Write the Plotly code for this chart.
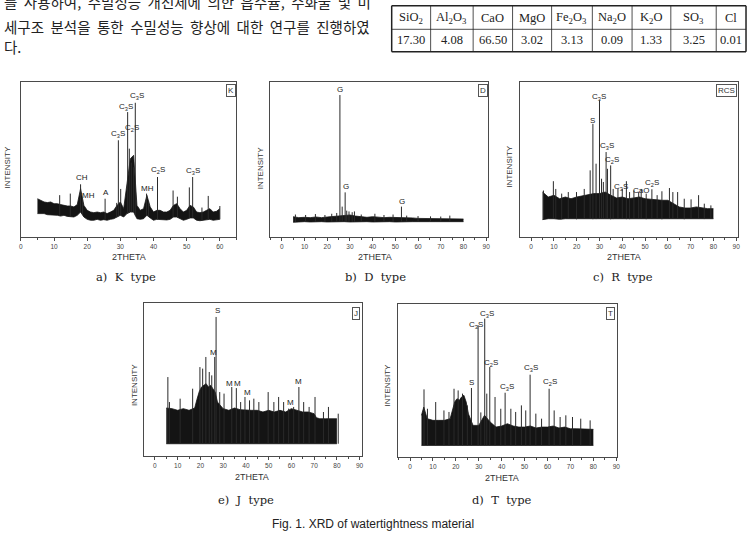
import numpy as np
import plotly.graph_objects as go

W, H = 751, 546

# ---------------- text content ----------------
intro_lines = ["를 사용하여, 수밀성능 개선제에 의한 흡수율, 수화물 및 미",
               "세구조 분석을 통한 수밀성능 향상에 대한 연구를 진행하였",
               "다."]
table_oxides = ["SiO<sub>2</sub>", "Al<sub>2</sub>O<sub>3</sub>", "CaO", "MgO",
                "Fe<sub>2</sub>O<sub>3</sub>", "Na<sub>2</sub>O", "K<sub>2</sub>O",
                "SO<sub>3</sub>", "Cl"]
table_values = [17.30, 4.08, 66.50, 3.02, 3.13, 0.09, 1.33, 3.25, 0.01]
fig_caption = "Fig. 1. XRD of watertightness material"

C3S = "C<sub>3</sub>S"
C2S = "C<sub>2</sub>S"

# ---------------- a) K type ----------------
k_band_x = list(range(5, 61))
k_band_hi = [24.7, 23.7, 22.6, 22.2, 22.6, 21.5, 21.5, 20.9, 20.4, 20.0,
             20.0, 19.4, 20.9, 31.2, 20.4, 17.2, 16.1, 15.7, 16.1, 15.7,
             16.1, 15.1, 16.1, 17.2, 20.4, 22.6, 18.3, 35.5, 50.5, 52.7,
             20.4, 17.2, 18.3, 26.9, 19.4, 16.1, 17.2, 17.2, 16.1, 16.1,
             17.2, 20.4, 21.5, 18.3, 16.1, 17.2, 20.4, 19.4, 16.1, 15.7,
             16.1, 17.2, 18.3, 16.1, 16.6, 18.3]
k_band_lo = [15.1, 15.1, 15.1, 14.4, 14.4, 14.0, 14.0, 13.5, 14.0, 13.3,
             12.9, 12.9, 14.0, 16.1, 12.9, 11.4, 10.8, 10.8, 11.4, 10.8,
             11.2, 10.8, 11.4, 11.8, 12.9, 14.0, 12.9, 15.1, 16.1, 16.1,
             11.8, 11.4, 11.8, 14.0, 12.3, 10.8, 11.4, 11.2, 10.8, 11.0,
             11.4, 12.9, 12.9, 11.8, 10.8, 11.4, 12.3, 12.3, 10.8, 10.5,
             10.8, 11.4, 11.4, 10.8, 11.0, 11.4]
k_peak_x = [11.7, 14.9, 18.0, 18.6, 25.4, 28.9, 29.4, 30.1, 32.2, 32.7, 33.3,
            34.0, 34.5, 37.9, 38.5, 41.2, 45.9, 47.2, 50.8, 51.8, 54.6, 56.5, 60.0]
k_peak_y = [27, 28, 34, 24, 24.7, 22, 62.4, 31, 80.6, 57, 48,
            45, 86.6, 28, 23, 38.7, 30, 26, 32, 38.7, 19, 26.5, 20]
k_lab_x = [18.3, 20.3, 25.6, 29.3, 31.8, 33.5, 34.9, 38.3, 41.5, 52.0]
k_lab_y = [38.7, 26.9, 28.4, 66.7, 83.9, 70.5, 91.0, 31.6, 43.4, 42.4]
k_lab_t = ["CH", "MH", "A", C3S, C3S, C2S, C3S, "MH", C2S, C3S]

# ---------------- b) D type ----------------
d_band_x = [5, 7.5, 10, 12.5, 15, 17.5, 20, 22.5, 25, 27.5, 30, 32.5, 35, 37.5, 40, 42.5,
            45, 47.5, 50, 52.5, 55, 57.5, 60, 62.5, 65, 67.5, 70, 72.5, 75, 77.5, 80]
d_band_hi = [13.1, 12.5, 12.7, 12.5, 12.9, 12.5, 12.9, 13.3, 13.5, 13.8, 14.2, 13.5,
             12.9, 12.7, 13.1, 12.7, 12.5, 12.7, 12.7, 12.5, 12.3, 12.3, 12.0, 12.0,
             12.0, 12.0, 11.8, 12.0, 11.8, 11.8, 11.6]
d_band_lo = [9.5, 9.9, 9.9, 9.7, 9.9, 9.9, 9.7, 9.9, 9.9, 9.9, 9.7, 9.9,
             9.9, 9.9, 9.7, 9.9, 9.9, 9.9, 9.7, 9.9, 9.9, 9.9, 9.9, 9.7,
             9.9, 9.9, 9.9, 9.7, 9.9, 9.9, 9.9]
d_peak_x = [6.0, 10.5, 14.8, 19.0, 22.0, 24.2, 25.6, 26.6, 27.9, 28.6, 29.6, 31.0,
            32.0, 35.0, 41.0, 45.0, 49.0, 52.7, 55.0, 60.0, 65.5, 70.0, 74.0]
d_peak_y = [14.5, 14.2, 14.8, 14.2, 15.0, 15.5, 91.6, 19.6, 28.8, 17.0, 16.5, 16.0,
            16.5, 14.5, 15.0, 14.2, 14.5, 19.6, 13.8, 13.5, 13.3, 13.2, 13.8]
d_lab_x = [25.7, 28.2, 53.0]
d_lab_y = [95.3, 32.3, 23.2]
d_lab_t = ["G", "G", "G"]

# ---------------- c) R type ----------------
r_band_x = [5, 7.5, 10, 12.5, 15, 17.5, 20, 22.5, 25, 27.5, 30, 32.5, 35, 37.5, 40, 42.5,
            45, 47.5, 50, 52.5, 55, 57.5, 60, 62.5, 65, 67.5, 70, 72.5, 75, 77.5, 80]
r_band_hi = [29.0, 25.8, 26.9, 24.7, 25.8, 24.7, 25.8, 26.5, 27.3, 28.0, 28.0, 29.0,
             26.9, 25.2, 25.8, 24.7, 25.2, 25.8, 24.7, 24.3, 23.7, 23.7, 23.7, 21.5,
             19.4, 18.7, 18.7, 19.4, 18.7, 18.3, 18.3]
r_band_lo = [11.2, 11.8, 11.8, 11.4, 11.8, 11.8, 11.4, 11.8, 11.8, 11.4, 11.8, 11.8,
             11.4, 11.8, 11.8, 11.4, 11.8, 11.8, 11.4, 11.8, 11.8, 11.4, 11.8, 11.8,
             11.8, 11.4, 11.8, 11.8, 11.4, 11.8, 11.8]
r_peak_x = [5.4, 9.75, 10.8, 13.4, 16.3, 19.9, 23.3, 25.9, 27.1, 28.5, 30.0, 30.9,
            31.7, 32.9, 33.5, 34.9, 36.0, 38.1, 40.0, 41.8, 43.2, 45.1, 47.2, 48.3,
            50.5, 53.0, 55.3, 57.4, 60.7, 62.2, 64.3, 67.2, 70.2, 73.5, 76.0, 78.9]
r_peak_y = [30, 36, 31, 28, 29, 29, 31, 43, 73, 47.3, 88.2, 37.6,
            35.5, 54.8, 44, 46.2, 31, 31, 31, 36, 29, 30, 29, 31,
            28, 30.8, 27, 29.5, 31.6, 29, 29, 24.7, 24.3, 27, 21.5, 20.4]
r_lab_x = [29.7, 27.1, 33.5, 35.7, 39.6, 48.3, 53.0]
r_lab_y = [90.5, 75.3, 58.7, 49.9, 32.0, 30.1, 35.1]
r_lab_t = [C3S, "S", C3S, C2S, C3S, "CaO", C2S]

# ---------------- e) J type ----------------
j_band_x = [5, 7.5, 10, 12.5, 15, 17.5, 18.5, 19.5, 20.5, 21.5, 22.5, 23.5, 24.5, 25.5,
            26.5, 27.5, 30, 32.5, 35, 37.5, 40, 42.5, 45, 47.5, 50, 52.5, 55, 57.5, 60,
            62.5, 65, 67.5, 70, 71, 72.5, 75, 77.5, 80]
j_band_hi = [31.3, 30.9, 29.8, 30.9, 29.8, 31.3, 37.0, 42.0, 45.0, 46.1, 47.2, 45.0,
             46.1, 43.9, 41.7, 35.2, 30.9, 29.8, 31.3, 30.2, 29.8, 29.8, 29.8, 28.7,
             29.8, 28.7, 29.8, 28.7, 30.9, 29.8, 28.7, 28.7, 27.6, 25.0, 24.3, 24.3,
             24.3, 24.3]
j_band_lo = [8.0, 8.0, 8.0, 8.0, 8.0, 8.0, 8.0, 8.0, 8.0, 8.0, 8.0, 8.0,
             8.0, 8.0, 8.0, 8.0, 8.0, 8.0, 8.0, 8.0, 8.0, 8.0, 8.0, 8.0,
             8.0, 8.0, 8.0, 8.0, 8.0, 8.0, 8.0, 8.0, 8.0, 8.0, 8.0, 8.0,
             8.0, 8.0]
j_peak_x = [5.7, 6.4, 11.1, 16.6, 19.8, 21.0, 22.4, 23.9, 25.0, 26.3, 26.9, 28.5,
            30.4, 33.8, 35.8, 37.7, 39.6, 41.6, 43.5, 45.7, 49.8, 52.3, 54.4, 56.6,
            58.8, 61.0, 63.3, 65.4, 67.8, 70.4, 74.1, 76.3, 80.6]
j_peak_y = [51.5, 35.2, 37.4, 43.9, 58.0, 57.0, 64.6, 54.8, 52.6, 64.6, 90.7, 41.7,
            40.7, 45.0, 44.3, 35.2, 38.5, 36.3, 37.4, 35.2, 41.7, 35.2, 38.5, 35.2,
            30.9, 32.0, 45.0, 35.2, 32.0, 38.5, 28.7, 32.0, 27.6]
j_lab_x = [27.4, 25.6, 33.0, 36.2, 40.8, 59.8, 63.3]
j_lab_y = [95.0, 67.4, 47.2, 47.6, 41.7, 35.2, 48.7]
j_lab_t = ["S", "M", "M", "M", "M", "M", "M"]

# ---------------- d) T type ----------------
t_band_x = [5, 6, 7.5, 10, 12.5, 15, 17.5, 18.5, 19.5, 20.5, 21.5, 22.5, 23.5, 24.5, 25.5,
            27.5, 30, 32.5, 35, 37.5, 40, 42.5, 45, 47.5, 50, 52.5, 55, 57.5, 60, 62.5,
            65, 67.5, 70, 72.5, 75, 77.5, 80]
t_band_hi = [27.1, 32.5, 24.9, 23.8, 23.8, 23.8, 24.9, 30.0, 35.8, 38.0, 36.9, 39.1,
             40.2, 35.8, 28.0, 20.5, 20.5, 27.1, 22.7, 19.4, 20.1, 21.6, 20.1, 19.4,
             19.4, 20.1, 18.8, 19.4, 19.4, 20.1, 18.8, 19.4, 18.3, 18.3, 18.3, 17.9, 17.9]
t_band_lo = [7.4, 7.4, 7.4, 7.4, 7.4, 7.4, 7.4, 7.4, 7.4, 7.4, 7.4, 7.4,
             7.4, 7.4, 7.4, 7.4, 7.4, 7.4, 7.4, 7.4, 7.4, 7.4, 7.4, 7.4,
             7.4, 7.4, 7.4, 7.4, 7.4, 7.4, 7.4, 7.4, 7.4, 7.4, 7.4, 7.4, 7.4]
t_peak_x = [6.1, 7.6, 11.2, 14.8, 17.0, 19.2, 21.0, 22.9, 25.0, 26.8, 29.7, 30.9,
            32.6, 33.5, 34.8, 37.1, 39.6, 41.5, 44.0, 46.1, 48.6, 50.5, 52.4, 54.9,
            57.4, 60.7, 62.9, 65.5, 68.0, 70.9, 74.5, 78.6]
t_peak_y = [44.1, 31.4, 35.8, 30.3, 29.3, 44.5, 43.4, 41.3, 33.6, 45.0, 86.0, 29.0,
            90.4, 41.3, 58.7, 39.1, 31.4, 41.9, 31.4, 29.3, 33.6, 30.3, 53.7, 28.2,
            24.9, 44.5, 30.3, 26.0, 27.1, 26.0, 24.9, 23.8]
t_lab_x = [28.6, 33.4, 35.2, 26.9, 42.5, 52.7, 61.1]
t_lab_y = [86.5, 93.2, 61.6, 48.5, 45.6, 58.3, 48.9]
t_lab_t = [C3S, C3S, C2S, "S", C3S, C3S, C2S]

# ---------------- layout geometry (pixels) ----------------
panels = [
    dict(n=1, bx=k_band_x, bhi=k_band_hi, blo=k_band_lo, sx=k_peak_x, sy=k_peak_y,
         lx=k_lab_x, ly=k_lab_y, lt=k_lab_t, box=(19, 82, 236, 237), xr=[0, 65],
         tag="K", tag_at=(235.5, 83.5), cap="a)  K  type", cap_at=(125, 276.5),
         xt_at=(128, 256.5), yt_at=(5.5, 167)),
    dict(n=2, bx=d_band_x, bhi=d_band_hi, blo=d_band_lo, sx=d_peak_x, sy=d_peak_y,
         lx=d_lab_x, ly=d_lab_y, lt=d_lab_t, box=(270, 82, 489, 237), xr=[-5.1, 90.7],
         tag="D", tag_at=(489, 83.5), cap="b)  D  type", cap_at=(375.5, 276.5),
         xt_at=(375, 256.5), yt_at=(260, 168)),
    dict(n=3, bx=r_band_x, bhi=r_band_hi, blo=r_band_lo, sx=r_peak_x, sy=r_peak_y,
         lx=r_lab_x, ly=r_lab_y, lt=r_lab_t, box=(521.7, 82, 740.7, 237), xr=[-4.8, 90.7],
         tag="RCS", tag_at=(740, 83.5), cap="c)  R  type", cap_at=(625.5, 276.5),
         xt_at=(626.5, 256.5), yt_at=(510, 167)),
    dict(n=4, bx=j_band_x, bhi=j_band_hi, blo=j_band_lo, sx=j_peak_x, sy=j_peak_y,
         lx=j_lab_x, ly=j_lab_y, lt=j_lab_t, box=(142.7, 302.7, 362.3, 456), xr=[-4.9, 91.0],
         tag="J", tag_at=(360.5, 306.5), cap="e)  J  type", cap_at=(246, 500),
         xt_at=(251.5, 476.5), yt_at=(133, 385)),
    dict(n=5, bx=t_band_x, bhi=t_band_hi, blo=t_band_lo, sx=t_peak_x, sy=t_peak_y,
         lx=t_lab_x, ly=t_lab_y, lt=t_lab_t, box=(399, 304, 619.3, 456.7), xr=[-5.1, 90.4],
         tag="T", tag_at=(617, 306.5), cap="d)  T  type", cap_at=(503, 500),
         xt_at=(503, 477.5), yt_at=(388, 385)),
]


def fx(p):
    return p / W


def fy(p):
    return 1 - p / H


AXC = "#4a4a4a"
INK = "#141414"
SANS = "Liberation Sans, Arial, sans-serif"
SERIF = "DejaVu Serif, Liberation Serif, serif"


def ptext(x, y, text, size, color="#222", family=SANS, **kw):
    d = dict(x=fx(x), y=fy(y), xref="paper", yref="paper", text=text, showarrow=False,
             xanchor="center", yanchor="middle",
             font=dict(size=size, color=color, family=family))
    d.update(kw)
    return d


fig = go.Figure()
layout = dict(width=W, height=H, autosize=False, margin=dict(l=0, r=0, t=0, b=0, pad=0),
              paper_bgcolor="white", plot_bgcolor="white", showlegend=False)
annotations = []
shapes = []

for p in panels:
    n = p["n"]
    xa = "x" if n == 1 else f"x{n}"
    ya = "y" if n == 1 else f"y{n}"
    l, t, r, b = p["box"]
    layout["xaxis" if n == 1 else f"xaxis{n}"] = dict(
        domain=[fx(l), fx(r)], range=p["xr"], anchor=ya, showline=True, mirror=True,
        linecolor=AXC, linewidth=1, ticks="outside", ticklen=3, tickwidth=1, tickcolor=AXC,
        tick0=0, dtick=10, minor=dict(ticks="outside", ticklen=2, dtick=5, tick0=0, tickcolor=AXC),
        tickfont=dict(size=6.5, color="#444", family=SANS), showgrid=False, zeroline=False)
    layout["yaxis" if n == 1 else f"yaxis{n}"] = dict(
        domain=[fy(b), fy(t)], range=[0, 100], anchor=xa, showline=True, mirror=True,
        linecolor=AXC, linewidth=1, ticks="", showticklabels=False, showgrid=False,
        zeroline=False)

    # dense noise band
    fig.add_trace(go.Scatter(x=p["bx"], y=p["blo"], mode="lines", xaxis=xa, yaxis=ya,
                             line=dict(color=INK, width=0.8), hoverinfo="skip"))
    fig.add_trace(go.Scatter(x=p["bx"], y=p["bhi"], mode="lines", xaxis=xa, yaxis=ya,
                             fill="tonexty", fillcolor=INK,
                             line=dict(color=INK, width=0.8), hoverinfo="skip"))
    # peaks / spikes
    base = np.interp(p["sx"], p["bx"], p["blo"])
    X, Y = [], []
    for sx, sy, sb in zip(p["sx"], p["sy"], base):
        X += [sx, sx, None]
        Y += [sb, sy, None]
    fig.add_trace(go.Scatter(x=X, y=Y, mode="lines", xaxis=xa, yaxis=ya,
                             line=dict(color="#2a2a2a", width=1), hoverinfo="skip"))
    # peak labels
    for lx, ly, lt in zip(p["lx"], p["ly"], p["lt"]):
        annotations.append(dict(x=lx, y=ly, xref=xa, yref=ya, text=lt, showarrow=False,
                                font=dict(size=8, color="#222", family=SANS),
                                xanchor="center", yanchor="middle"))
    # tag box
    tx, ty = p["tag_at"]
    annotations.append(ptext(tx, ty, p["tag"], 8, color="#333", xanchor="right",
                             yanchor="top", bordercolor="#555", borderwidth=1,
                             borderpad=1, bgcolor="white"))
    # axis titles and captions
    cx, cy = p["xt_at"]
    annotations.append(ptext(cx, cy, "2THETA", 9, color="#333"))
    cx, cy = p["yt_at"]
    annotations.append(ptext(cx, cy, "INTENSITY", 8, color="#333", textangle=-90))
    cx, cy = p["cap_at"]
    annotations.append(ptext(cx, cy, p["cap"], 11.5, family=SERIF))

# figure caption
annotations.append(ptext(373.5, 523.5, fig_caption, 12))

# intro Korean text (justified paragraph: widen the word gaps)
NB = "\u00a0"
for txt, yy in zip(intro_lines, [1.5, 26.5, 46]):
    shown = txt if txt == intro_lines[-1] else txt.replace(" ", " " + NB)
    annotations.append(ptext(0, yy, shown, 14.5, family="Noto Sans CJK KR", xanchor="left"))

# composition table
col_edges = [392.3, 431.5, 474.3, 514, 553.3, 594.3, 634.3, 673.3, 719, 749]
row_edges = [5.7, 29.3, 51.7]
for i, xe in enumerate(col_edges):
    outer = i in (0, len(col_edges) - 1)
    shapes.append(dict(type="line", xref="paper", yref="paper", x0=fx(xe), x1=fx(xe),
                       y0=fy(row_edges[0]), y1=fy(row_edges[-1]),
                       line=dict(color="#222", width=1.5 if outer else 0.8)))
for j, ye in enumerate(row_edges):
    outer = j in (0, len(row_edges) - 1)
    shapes.append(dict(type="line", xref="paper", yref="paper", x0=fx(col_edges[0]),
                       x1=fx(col_edges[-1]), y0=fy(ye), y1=fy(ye),
                       line=dict(color="#222", width=1.5 if outer else 0.8)))
for i, (ox, val) in enumerate(zip(table_oxides, table_values)):
    cxm = (col_edges[i] + col_edges[i + 1]) / 2
    annotations.append(ptext(cxm, (row_edges[0] + row_edges[1]) / 2, ox, 12.5,
                             family="Liberation Serif, serif"))
    annotations.append(ptext(cxm, (row_edges[1] + row_edges[2]) / 2, f"{val:.2f}", 12.5,
                             family="Liberation Serif, serif"))

layout["annotations"] = annotations
layout["shapes"] = shapes
fig.update_layout(**layout)
fig.write_html("out.html")
